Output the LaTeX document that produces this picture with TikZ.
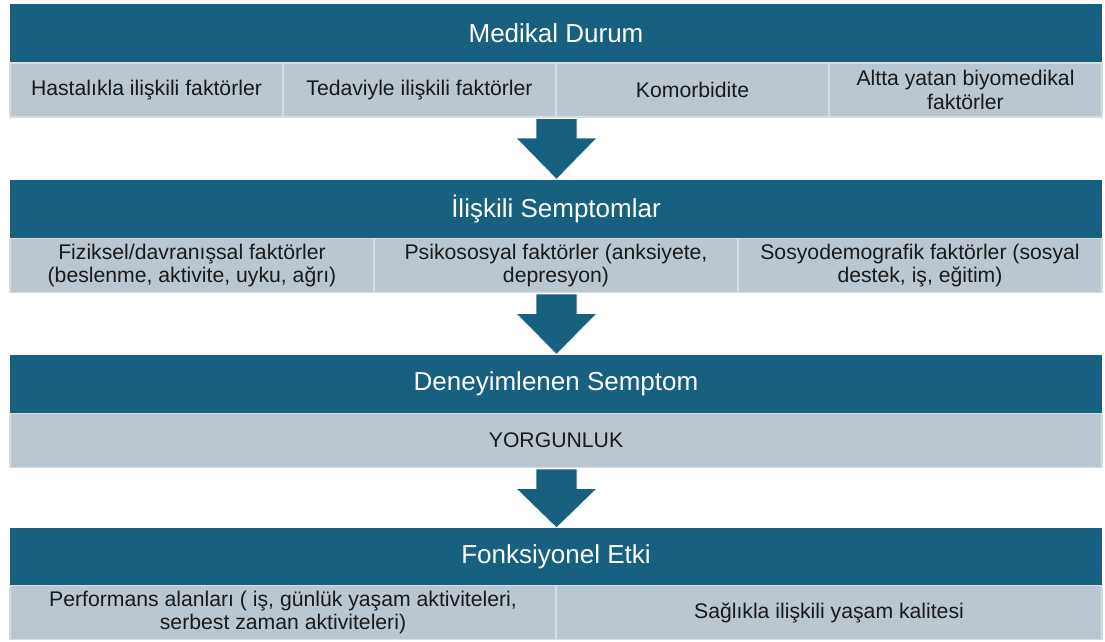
\documentclass[tikz,border=0pt]{standalone}
\usepackage{fontspec}
\setmainfont{Liberation Sans}
\usetikzlibrary{calc}
\definecolor{hdr}{HTML}{17607F}
\definecolor{cellc}{HTML}{BAC6D0}
\definecolor{cellb}{HTML}{D5DCE2}
\definecolor{txt}{HTML}{1A1A1A}
\begin{document}
\begin{tikzpicture}[x=1pt,y=-1pt,
  hdrbox/.style={rectangle, fill=hdr, text=white, inner sep=0pt,
    minimum height=58pt, minimum width=1092pt,
    font=\fontsize{26}{30}\selectfont},
  cellbox/.style={rectangle, fill=cellc, draw=cellb, line width=1.5pt,
    inner sep=0pt, minimum height=54pt, align=center, text=txt,
    font=\fontsize{21.2}{23.5}\selectfont},
  blockarrow/.style={fill=hdr, draw=white, line width=0.6pt}
]
\useasboundingbox (0,0) rectangle (1105,641);

% Band 1
\node[hdrbox] (h1) at (556,33) {Medikal Durum};
\node[cellbox, minimum width=273pt] (c11) at (146.5,90) {Hastalıkla ilişkili faktörler};
\node[cellbox, minimum width=273pt] (c12) at (419.5,90) {Tedaviyle ilişkili faktörler};
\node[cellbox, minimum width=273pt] (c13) at (692.5,90) {Komorbidite};
\node[cellbox, minimum width=273pt] (c14) at (965.5,90) {Altta yatan biyomedikal\\faktörler};

% Band 2
\node[hdrbox] (h2) at (556,208.5) {İlişkili Semptomlar};
\node[cellbox, minimum width=364pt] (c21) at (192,265.5) {Fiziksel/davranışsal faktörler\\(beslenme, aktivite, uyku, ağrı)};
\node[cellbox, minimum width=364pt] (c22) at (556,265.5) {Psikososyal faktörler (anksiyete,\\depresyon)};
\node[cellbox, minimum width=364pt] (c23) at (920,265.5) {Sosyodemografik faktörler (sosyal\\destek, iş, eğitim)};

% Band 3
\node[hdrbox] (h3) at (556,383.5) {Deneyimlenen Semptom};
\node[cellbox, minimum width=1092pt] (c31) at (556,440.5) {YORGUNLUK};

% Band 4
\node[hdrbox] (h4) at (556,557) {Fonksiyonel Etki};
\node[cellbox, minimum width=546pt] (c41) at (283,612.5) {Performans alanları ( iş, günlük yaşam aktiviteleri,\\serbest zaman aktiviteleri)};
\node[cellbox, minimum width=546pt] (c42) at (829,612.5) {Sağlıkla ilişkili yaşam kalitesi};

% Arrows
\foreach \a/\b/\h in {c11/h2/h1, c21/h3/h2, c31/h4/h3}{
  \coordinate (A) at ($(\h.center |- \a.south)+(0.5,0.75)$);
  \coordinate (T) at ($(\b.north)+(0.5,0)$);
  \path[blockarrow] ($(A)+(-20.5,0)$) -- ($(A)+(20.5,0)$) -- ($(A)+(20.5,19.5)$)
    -- ($(A)+(40.5,19.5)$) -- (T) -- ($(A)+(-40.5,19.5)$) -- ($(A)+(-20.5,19.5)$) -- cycle;
}
\end{tikzpicture}
\end{document}
